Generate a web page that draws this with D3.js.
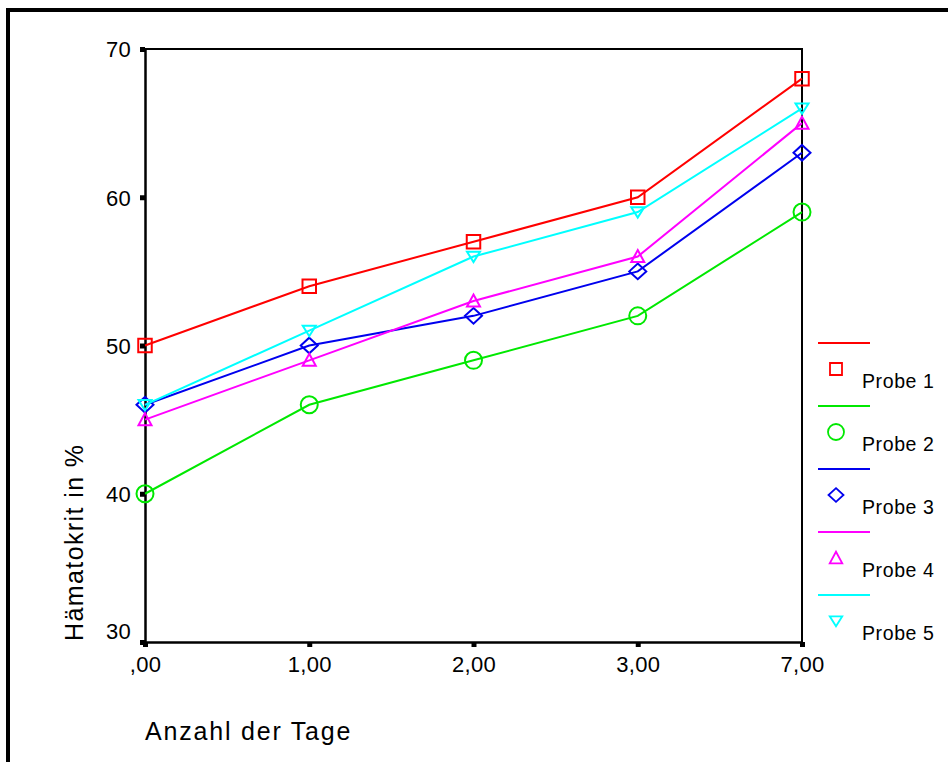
<!DOCTYPE html>
<html>
<head>
<meta charset="utf-8">
<script src="https://cdn.jsdelivr.net/npm/d3@7"></script>
<style>
  html, body { margin: 0; padding: 0; background: #fff; }
  svg { display: block; font-family: "Liberation Sans", Arial, sans-serif; }
</style>
</head>
<body>
<svg id="chart" width="948" height="762"></svg>
<script>
const categories = [",00", "1,00", "2,00", "3,00", "7,00"];
const seriesNames = ["Probe 1", "Probe 2", "Probe 3", "Probe 4", "Probe 5"];
const probe1 = [50, 54, 57, 60, 68];
const probe2 = [40, 46, 49, 52, 59];
const probe3 = [46, 50, 52, 55, 63];
const probe4 = [45, 49, 53, 56, 65];
const probe5 = [46, 51, 56, 59, 66];
const yTicks = [30, 40, 50, 60, 70];
const xTitle = "Anzahl der Tage";
const yTitle = "Hämatokrit in %";

const seriesValues = [probe1, probe2, probe3, probe4, probe5];
const colors = ["#ff0000", "#00e800", "#0000ee", "#ff00ff", "#00ffff"];
const shapes = ["square", "circle", "diamond", "triUp", "triDown"];
const FONT = "'Liberation Sans', Arial, sans-serif";

const svg = d3.select("#chart");

// outer frame
svg.append("rect").attr("x", 8).attr("y", 10).attr("width", 1200).attr("height", 1200)
  .attr("fill", "none").attr("stroke", "#000").attr("stroke-width", 4);

const x = d3.scalePoint().domain(categories).range([145, 802]).padding(0);
const y = d3.scaleLinear().domain([30, 70]).range([642, 49]);

// plot frame (top & right)
svg.append("path")
  .attr("d", `M${x.range()[0]},${y(70)}H${x.range()[1]}V${y(30)}`)
  .attr("fill", "none").attr("stroke", "#000").attr("stroke-width", 2);

// y axis
const yAxis = svg.append("g").attr("transform", `translate(${x.range()[0]},0)`)
  .call(d3.axisLeft(y).tickValues(yTicks).tickSizeInner(5).tickSizeOuter(0).tickPadding(9).tickFormat(d3.format("d")));
yAxis.attr("font-family", FONT).attr("font-size", 22);
yAxis.select(".domain").attr("stroke", "#000").attr("stroke-width", 2.5);
yAxis.selectAll(".tick line").attr("stroke", "#000").attr("stroke-width", 5);
yAxis.selectAll(".tick text").attr("fill", "#000").attr("letter-spacing", "0.3px")
  .attr("dy", d => d === 30 ? "-0.15em" : "0.36em");

// x axis
const xAxis = svg.append("g").attr("transform", `translate(0,${y(30)})`)
  .call(d3.axisBottom(x).tickSizeInner(5).tickSizeOuter(0).tickPadding(9));
xAxis.attr("font-family", FONT).attr("font-size", 22);
xAxis.select(".domain").attr("stroke", "#000").attr("stroke-width", 2.5);
xAxis.selectAll(".tick line").attr("stroke", "#000").attr("stroke-width", 5);
xAxis.selectAll(".tick text").attr("fill", "#000").attr("letter-spacing", "0.3px");

// titles
svg.append("text").attr("x", 145).attr("y", 740).attr("font-size", 25)
  .attr("letter-spacing", "1.8px").text(xTitle);
svg.append("text").attr("transform", "translate(83,641) rotate(-90)")
  .attr("font-size", 25).attr("letter-spacing", "1.4px").text(yTitle);

function markerPath(shape, s) {
  const h = s / 2;
  switch (shape) {
    case "square": return `M${-h},${-h}H${h}V${h}H${-h}Z`;
    case "circle": {
      const p = d3.path(); p.arc(0, 0, h, 0, 2 * Math.PI); return p.toString();
    }
    case "diamond": return `M0,${-h * 0.92}L${h},0L0,${h * 0.92}L${-h},0Z`;
    case "triUp": return `M0,${-h}L${h},${h * 0.85}L${-h},${h * 0.85}Z`;
    case "triDown": return `M${-h},${-h * 0.75}L${h},${-h * 0.75}L0,${h * 0.85}Z`;
  }
}
const markerSize = [13.5, 17, 17, 13, 13];
const legendSize = [12, 16, 15, 12.5, 12.5];

const line = d3.line().x((d, i) => x(categories[i])).y(d => y(d));

seriesValues.forEach((vals, si) => {
  const g = svg.append("g");
  g.append("path").attr("d", line(vals)).attr("fill", "none")
    .attr("stroke", colors[si]).attr("stroke-width", 2);
  g.selectAll("path.m").data(vals).join("path").attr("class", "m")
    .attr("transform", (d, i) => `translate(${x(categories[i])},${y(d)})`)
    .attr("d", markerPath(shapes[si], markerSize[si]))
    .attr("fill", "none").attr("stroke", colors[si]).attr("stroke-width", 2);
});

// legend
const legend = svg.append("g");
seriesNames.forEach((name, si) => {
  const top = 343 + si * 63;
  legend.append("line").attr("x1", 818).attr("x2", 870).attr("y1", top).attr("y2", top)
    .attr("stroke", colors[si]).attr("stroke-width", 2);
  legend.append("path").attr("transform", `translate(836,${top + 26})`)
    .attr("d", markerPath(shapes[si], legendSize[si]))
    .attr("fill", "none").attr("stroke", colors[si]).attr("stroke-width", 1.8);
  legend.append("text").attr("x", 862).attr("y", top + 45).attr("font-size", 19.5)
    .attr("letter-spacing", "0.6px").text(name);
});
</script>
</body>
</html>
